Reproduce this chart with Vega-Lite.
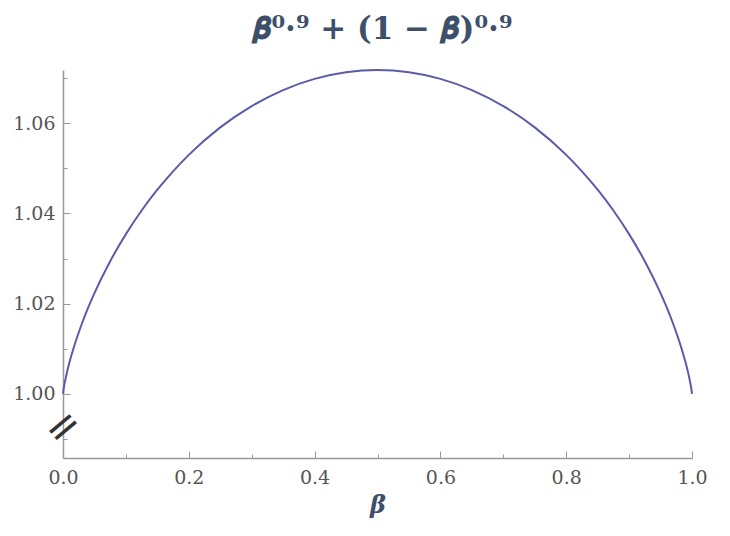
{
  "$schema": "https://vega.github.io/schema/vega-lite/v6.json",
  "width": 629,
  "height": 388,
  "autosize": {"type": "none"},
  "padding": {"left": 63, "top": 70, "right": 38, "bottom": 78},
  "background": "white",
  "title": {"text": "𝜷⁰·⁹ + (1 − 𝜷)⁰·⁹", "font": "DejaVu Serif", "fontSize": 31, "fontWeight": "bold", "color": "#3d4f6a", "offset": 20, "dx": 5},
  "config": {"view": {"stroke": null}},
  "layer": [
    {
      "data": {"values": [
        {"b": 0, "f": 1.0},
        {"b": 0.001, "f": 1.001095},
        {"b": 0.0025, "f": 1.002299},
        {"b": 0.005, "f": 1.003996},
        {"b": 0.01, "f": 1.006844},
        {"b": 0.02, "f": 1.011557},
        {"b": 0.03, "f": 1.015559},
        {"b": 0.04, "f": 1.019116},
        {"b": 0.05, "f": 1.022349},
        {"b": 0.075, "f": 1.029415},
        {"b": 0.1, "f": 1.035425},
        {"b": 0.125, "f": 1.040654},
        {"b": 0.15, "f": 1.045262},
        {"b": 0.175, "f": 1.049345},
        {"b": 0.2, "f": 1.052988},
        {"b": 0.25, "f": 1.059081},
        {"b": 0.3, "f": 1.063801},
        {"b": 0.35, "f": 1.067355},
        {"b": 0.4, "f": 1.069829},
        {"b": 0.45, "f": 1.07129},
        {"b": 0.5, "f": 1.071773},
        {"b": 0.55, "f": 1.07129},
        {"b": 0.6, "f": 1.069829},
        {"b": 0.65, "f": 1.067355},
        {"b": 0.7, "f": 1.063801},
        {"b": 0.75, "f": 1.059081},
        {"b": 0.8, "f": 1.052988},
        {"b": 0.825, "f": 1.049345},
        {"b": 0.85, "f": 1.045262},
        {"b": 0.875, "f": 1.040654},
        {"b": 0.9, "f": 1.035425},
        {"b": 0.925, "f": 1.029415},
        {"b": 0.95, "f": 1.022349},
        {"b": 0.96, "f": 1.019116},
        {"b": 0.97, "f": 1.015559},
        {"b": 0.98, "f": 1.011557},
        {"b": 0.99, "f": 1.006844},
        {"b": 0.995, "f": 1.003996},
        {"b": 0.9975, "f": 1.002299},
        {"b": 0.999, "f": 1.001095},
        {"b": 1, "f": 1.0}
      ]},
      "mark": {"type": "line", "color": "#5b5bab", "strokeWidth": 2, "interpolate": "monotone", "clip": false},
      "encoding": {
        "x": {
          "field": "b", "type": "quantitative",
          "scale": {"domain": [0, 1], "nice": false, "zero": false},
          "axis": {
            "values": [0, 0.05, 0.1, 0.15, 0.2, 0.25, 0.3, 0.35, 0.4, 0.45, 0.5, 0.55, 0.6, 0.65, 0.7, 0.75, 0.8, 0.85, 0.9, 0.95, 1],
            "labelExpr": "abs(datum.value*5-round(datum.value*5))<0.001 ? format(datum.value,'.1f') : ''",
            "labelFont": "DejaVu Serif", "labelFontSize": 19, "labelColor": "#555",
            "labelPadding": 10, "labelFlush": false, "labelOverlap": false,
            "tickSize": 0, "tickColor": "#999", "tickWidth": 1,
            "domainColor": "#999", "domainWidth": 1.5, "grid": false,
            "title": "β", "titleFont": "DejaVu Serif", "titleFontStyle": "italic", "titleFontWeight": "bold",
            "titleFontSize": 24, "titleColor": "#3d4f6a", "titlePadding": 6,
            "encoding": {"ticks": {"y2": {"condition": {"test": "abs(datum.value*5-round(datum.value*5))<0.001", "value": -7}, "value": -4}}}
          }
        },
        "y": {
          "field": "f", "type": "quantitative",
          "scale": {"domain": [0.9858, 1.0718], "nice": false, "zero": false},
          "axis": {
            "values": [0.99, 0.995, 1.0, 1.005, 1.01, 1.015, 1.02, 1.025, 1.03, 1.035, 1.04, 1.045, 1.05, 1.055, 1.06, 1.065, 1.07],
            "labelExpr": "abs(datum.value*50-round(datum.value*50))<0.001 && datum.value>0.995 ? format(datum.value,'.2f') : ''",
            "labelFont": "DejaVu Serif", "labelFontSize": 19, "labelColor": "#555",
            "labelPadding": 8, "labelFlush": false, "labelOverlap": false,
            "tickSize": 0, "tickColor": "#999", "tickWidth": 1,
            "domainColor": "#999", "domainWidth": 1.5, "grid": false,
            "title": null,
            "encoding": {"ticks": {"x2": {"condition": {"test": "abs(datum.value*50-round(datum.value*50))<0.001", "value": 7}, "value": 4}}}
          }
        }
      }
    },
    {
      "data": {"values": [{}]},
      "mark": {"type": "text", "text": "=", "angle": -40, "fontSize": 42, "font": "DejaVu Sans", "color": "#333"},
      "encoding": {"x": {"datum": 0}, "y": {"datum": 0.9926}}
    }
  ]
}
